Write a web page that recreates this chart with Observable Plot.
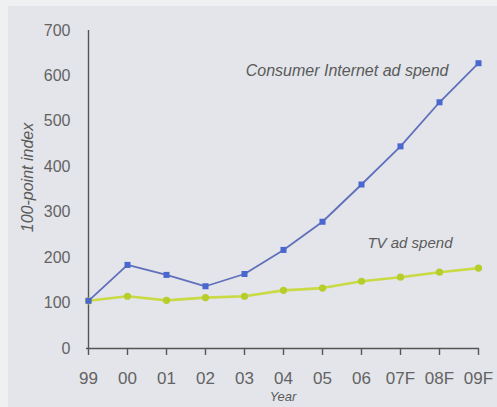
<!DOCTYPE html>
<html>
<head>
<meta charset="utf-8">
<script src="https://cdn.jsdelivr.net/npm/d3@7"></script>
<script src="https://cdn.jsdelivr.net/npm/@observablehq/plot@0.6"></script>
<style>
  html, body { margin: 0; padding: 0; }
  body {
    width: 497px; height: 407px; overflow: hidden;
    background:
      linear-gradient(#eef0f2, #eef0f2) 0 0 / 497px 6px no-repeat,
      linear-gradient(#eef0f2, #eef0f2) 0 0 / 8px 407px no-repeat,
      #e3e5ea;
  }
  svg { display: block; }
</style>
</head>
<body>
<div id="chart"></div>
<script>
// Years on the x axis (F = forecast)
const years = ["99", "00", "01", "02", "03", "04", "05", "06", "07F", "08F", "09F"];
// Index values, 1999 = 100
const internetSpend = [105, 184, 162, 137, 164, 217, 279, 361, 445, 542, 628];
const tvSpend = [105, 115, 106, 112, 115, 128, 133, 148, 157, 168, 177];
const yTicks = [0, 100, 200, 300, 400, 500, 600, 700];

const rows = years.map((year, i) => ({ year, internet: internetSpend[i], tv: tvSpend[i] }));

const labelFont = "Liberation Sans, Arial, sans-serif";

const chart = Plot.plot({
  width: 497,
  height: 407,
  marginLeft: 86,
  marginRight: 18,
  marginTop: 30,
  marginBottom: 59,
  style: { background: "transparent", fontFamily: labelFont, color: "#555" },
  x: { type: "point", domain: years, padding: 0, label: null },
  y: { domain: [0, 700], label: null },
  marks: [
    Plot.axisY({ ticks: yTicks, tickSize: 0, tickPadding: 16, fontSize: 16, fill: "#636363" }),
    Plot.axisX({ tickSize: 7, tickPadding: 16, fontSize: 17, fill: "#636363", stroke: "#555", strokeWidth: 1.4 }),
    Plot.ruleY([0], { stroke: "#555", strokeWidth: 1.4 }),
    Plot.ruleX([years[0]], { stroke: "#555", strokeWidth: 1.4 }),
    // TV ad spend
    Plot.line(rows, { x: "year", y: "tv", stroke: "#c9da45", strokeWidth: 2.6 }),
    Plot.dot(rows, { x: "year", y: "tv", r: 3.6, fill: "#b6cd2c" }),
    // Consumer Internet ad spend
    Plot.line(rows, { x: "year", y: "internet", stroke: "#6070bb", strokeWidth: 1.8 }),
    Plot.dot(rows, { x: "year", y: "internet", symbol: "square", r: 3.4, fill: "#4a66cf" }),
    // Series labels
    Plot.text(["Consumer Internet ad spend"], {
      frameAnchor: "top-right", dx: -31, dy: 40, textAnchor: "end", lineAnchor: "middle",
      fontSize: 16, fontStyle: "italic", fill: "#5a5a5a"
    }),
    Plot.text(["TV ad spend"], {
      frameAnchor: "top-right", dx: -27, dy: 213, textAnchor: "end", lineAnchor: "middle",
      fontSize: 15, fontStyle: "italic", fill: "#5a5a5a"
    }),
    // Axis titles
    Plot.text(["100-point index"], {
      frameAnchor: "left", dx: -59, dy: -12, rotate: -90, textAnchor: "middle", lineAnchor: "middle",
      fontSize: 16, fontStyle: "italic", fill: "#5a5a5a"
    }),
    Plot.text(["Year"], {
      frameAnchor: "bottom", dy: 48, textAnchor: "middle", lineAnchor: "middle",
      fontSize: 13, fontStyle: "italic", fill: "#5a5a5a"
    })
  ]
});

document.getElementById("chart").append(chart);
</script>
</body>
</html>
